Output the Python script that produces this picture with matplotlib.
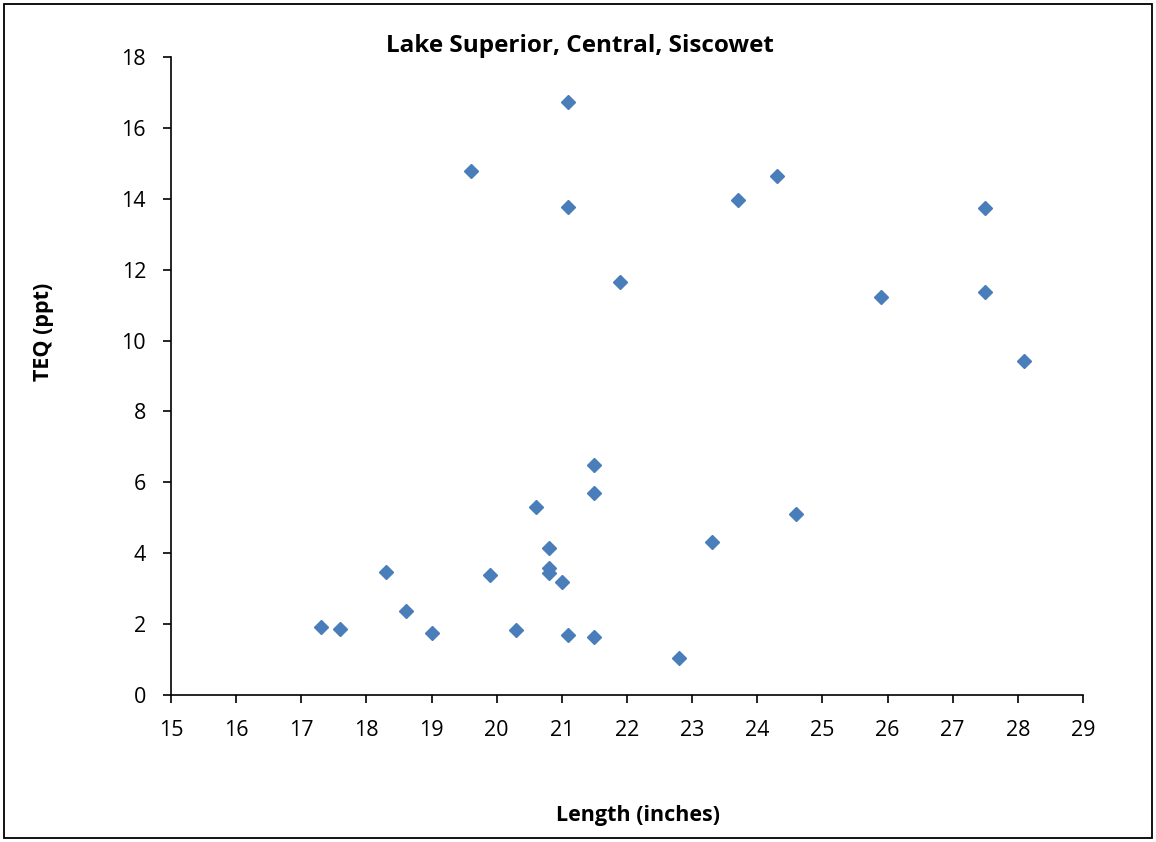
import matplotlib
matplotlib.use("Agg")
import matplotlib.pyplot as plt
from matplotlib.patches import Rectangle

length = [17.3, 17.6, 18.3, 18.6, 19.0, 19.6, 19.9, 20.3, 20.6, 20.8, 20.8, 20.8,
          21.0, 21.1, 21.1, 21.1, 21.5, 21.5, 21.5, 21.9, 22.8, 23.3, 23.7, 24.3,
          24.6, 25.9, 27.5, 27.5, 28.1]
teq = [1.92, 1.86, 3.47, 2.37, 1.75, 14.79, 3.39, 1.83, 5.30, 4.15, 3.58, 3.44,
       3.19, 16.73, 13.77, 1.69, 6.49, 5.70, 1.64, 11.65, 1.04, 4.32, 13.97, 14.64,
       5.11, 11.23, 13.74, 11.37, 9.42]

title = "Lake Superior, Central, Siscowet"
xlabel = "Length (inches)"
ylabel = "TEQ (ppt)"
xticks = list(range(15, 30))
yticks = list(range(0, 19, 2))

plt.rcParams['font.family'] = ['Open Sans', 'DejaVu Sans']

fig = plt.figure(figsize=(11.56, 8.42), dpi=100)
ax = fig.add_axes([171/1156, 1-695/842, (1083-171)/1156, (695-57)/842])

ax.plot(length, teq, linestyle='none', marker='D', markersize=7.5,
        color='#4a7ebb', markeredgecolor='#4a7ebb')

ax.set_xlim(15, 29)
ax.set_ylim(0, 18)
ax.set_xticks(xticks)
ax.set_yticks(yticks)
ax.tick_params(axis='both', direction='out', length=5.5, width=1.2, labelsize=15.5, pad=12.5)
for s in ['top', 'right']:
    ax.spines[s].set_visible(False)
for s in ['left', 'bottom']:
    ax.spines[s].set_linewidth(1.2)

fig.text(580/1156, 1-46/842, title, ha='center', va='center', fontsize=17.5, fontweight='bold')
fig.text(638/1156, 1-816/842, xlabel, ha='center', va='center', fontsize=15.5, fontweight='bold')
fig.text(43/1156, 1-332/842, ylabel, ha='center', va='center', rotation=90, fontsize=15.5, fontweight='bold')

fig.patches.append(Rectangle((4/1156, 4/842), 1148/1156, 834/842, transform=fig.transFigure,
                             fill=False, edgecolor='black', linewidth=1.3))

fig.savefig("out.png", dpi=100)
